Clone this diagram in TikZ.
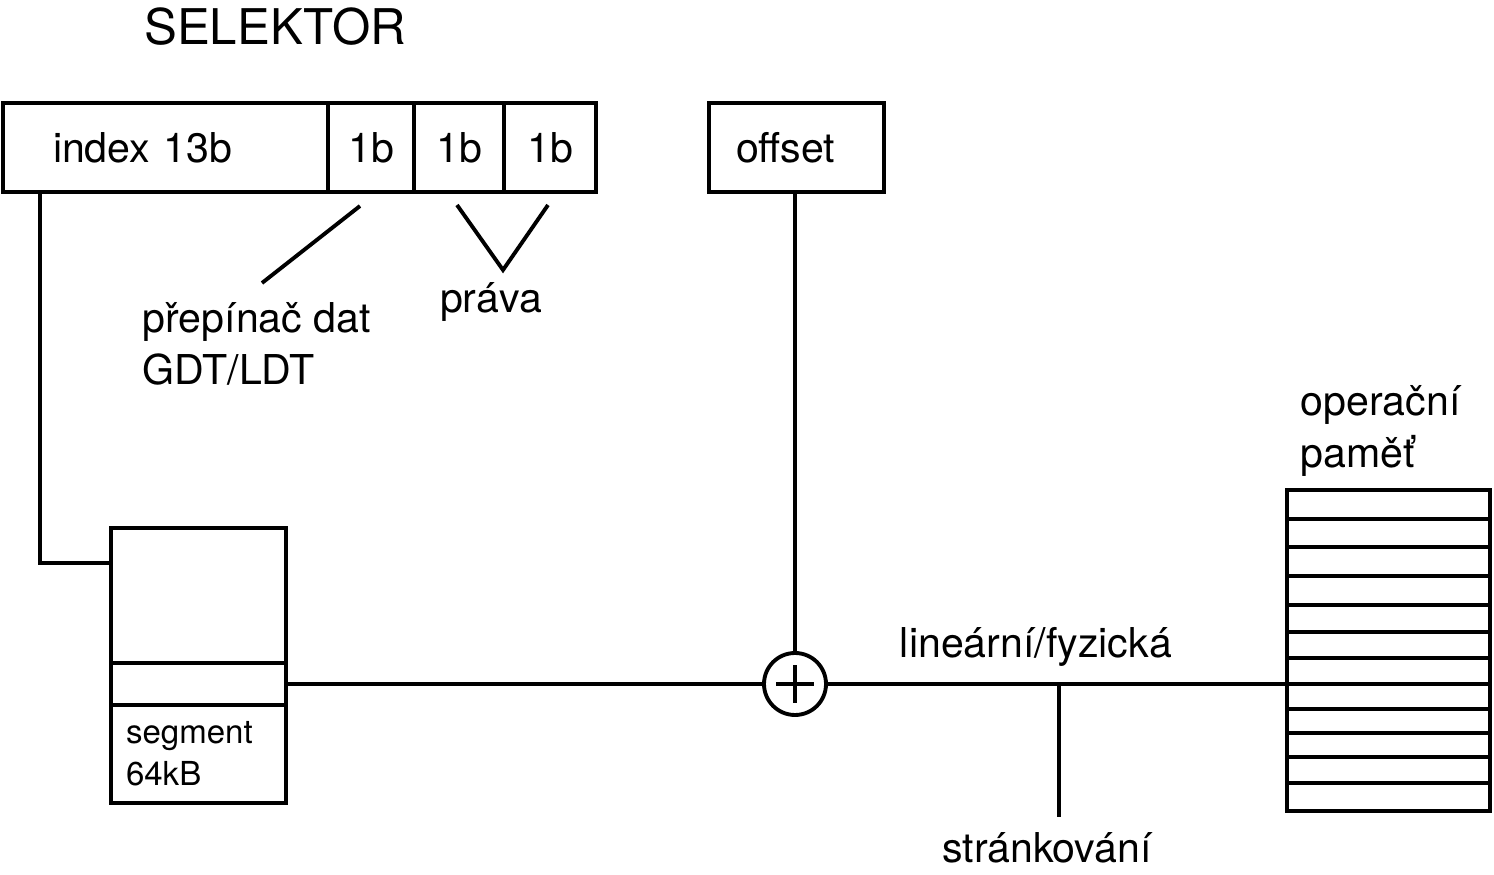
\documentclass[tikz,border=0pt]{standalone}
\usepackage{fontspec}
\setmainfont{TeX Gyre Heros}
\usetikzlibrary{positioning}
\tikzset{
  wire/.style={line width=1.1pt},
  field/.style={draw,line width=1.1pt,minimum height=8.9mm,inner sep=0pt,outer sep=0pt,
    font=\fontsize{11.7}{15}\selectfont},
  segbox/.style={draw,line width=1.1pt,minimum width=17.5mm,inner sep=0pt,outer sep=0pt},
  tag/.style={font=\fontsize{11.7}{15}\selectfont,inner sep=0pt,align=left},
}
\begin{document}
\begin{tikzpicture}[x=0.1mm,y=-0.1mm]
  \useasboundingbox (0,0) rectangle (1494,875);
  % selector fields
  \node[font=\fontsize{14}{17}\selectfont] (title) at (275,27) {SELEKTOR};
  \node[field,minimum width=32.5mm,text width=22.5mm,inner xsep=5mm,align=left] (idx) at (165.5,147.5) {index 13b};
  \node[field,minimum width=8.6mm,right=0pt of idx] (b1) {1b};
  \node[field,minimum width=9mm,right=0pt of b1] (b2) {1b};
  \node[field,minimum width=9.2mm,right=0pt of b2] (b3) {1b};
  \node[field,minimum width=17.5mm,text width=12.1mm,inner xsep=2.7mm,align=left] (off) at (796.5,147.5) {offset};
  \node[tag,anchor=west] (sw) at (142,344) {přepínač dat\\GDT/LDT};
  \node[tag] (rights) at (491,302) {práva};
  % segment descriptor
  \node[segbox,minimum height=13.5mm] (segtop) at (198.5,595.5) {};
  \node[segbox,minimum height=4.2mm,below=0pt of segtop] (segmid) {};
  \node[segbox,minimum height=9.8mm,below=0pt of segmid,text width=14.5mm,inner xsep=1.5mm,
    align=left,font=\fontsize{9.4}{12}\selectfont] (segbot) {segment\\64kB};
  % adder
  \node[circle,draw,line width=1.1pt,minimum size=6.2mm,inner sep=0pt] (add) at (795,684) {};
  \draw[wire] ([xshift=-1.9mm]add.center) -- ([xshift=1.9mm]add.center)
    ([yshift=-1.9mm]add.center) -- ([yshift=1.9mm]add.center);
  % memory
  \node[tag,anchor=west] (ram) at (1300,431) {operační\\paměť};
  \node[draw,line width=1.1pt,minimum width=20.3mm,minimum height=32.1mm,inner sep=0pt,outer sep=0pt] (mem) at (1388.5,650.5) {};
  \foreach \y in {519,547,576,605,632,658,684,709,733,757,783}
    \draw[wire] (1287,\y) -- (1490,\y);
  \node[tag] (lin) at (1036,647) {lineární/fyzická};
  \node[tag] (paging) at (1047,848) {stránkování};
  % connectors
  \coordinate (swtip) at (262,283);
  \coordinate (vtip) at (503,270);
  \coordinate (tap) at (1059,684);
  \draw[wire] ([xshift=3.7mm]idx.south west) |- ([yshift=-3.5mm]segtop.north west);
  \draw[wire] ([shift={(-1.1mm,-1.4mm)}]b1.south) -- (swtip);
  \draw[wire] ([shift={(-0.2mm,-1.3mm)}]b2.south) -- (vtip) -- ([shift={(-0.2mm,-1.3mm)}]b3.south);
  \draw[wire] (add |- off.south) -- (add);
  \draw[wire] (segmid) -- (add);
  \draw[wire] (add) -- (add -| mem.west);
  \draw[wire] (tap) -- ([yshift=1.5mm]tap |- paging.north);
\end{tikzpicture}
\end{document}
